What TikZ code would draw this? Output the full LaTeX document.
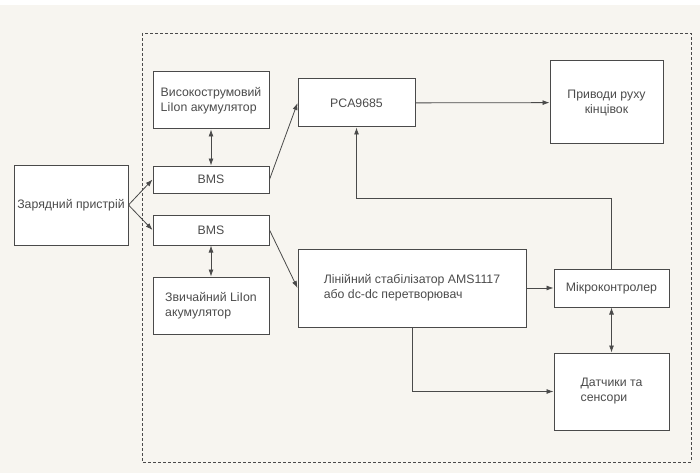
\documentclass[tikz,border=0pt]{standalone}
\usepackage{fontspec}
\setmainfont{Liberation Sans}
\usetikzlibrary{arrows.meta}
\definecolor{paper}{HTML}{F7F5F0}
\definecolor{linegray}{HTML}{4A4A4A}
\tikzset{
    blok/.style={draw=linegray, fill=white, line width=1pt, inner sep=1pt,
        font=\fontsize{12.3}{15}\selectfont, text=black!70},
    zv/.style={draw=linegray, line width=0.8pt},
    >={Latex[length=7pt,width=5pt]}
}
\begin{document}
\begin{tikzpicture}[x=1pt,y=-1pt]
    \fill[white] (0,0) rectangle (700,473);
    \fill[paper] (0,5) rectangle (700,473);
    \useasboundingbox (0,0) rectangle (700,473);
    \draw[linegray, dashed, dash pattern=on 3pt off 2pt, line width=0.8pt] (142,33) rectangle (691,462);

    \node[blok, minimum width=114pt, minimum height=80pt] (zar) at (71,205) {Зарядний пристрій};
    \node[blok, minimum width=116pt, minimum height=57pt, align=left] (hv) at (211,100.5)
    {
        Високострумовий\\LiIon акумулятор
    };
    \node[blok, minimum width=116pt, minimum height=27pt] (bms1) at (211,179.5) {BMS};
    \node[blok, minimum width=116pt, minimum height=30pt] (bms2) at (211,230) {BMS};
    \node[blok, minimum width=116pt, minimum height=57pt, align=left] (li) at (211,305.5)
    {
        Звичайний LiIon\\акумулятор
    };
    \node[blok, minimum width=117pt, minimum height=48pt] (pca) at (356.5,103) {PCA9685};
    \node[blok, minimum width=113pt, minimum height=83pt, align=center] (act) at (606.5,102.5)
    {
        Приводи руху\\кінцівок
    };
    \node[blok, minimum width=228pt, minimum height=78pt, align=left] (stab) at (412,288)
    {
        Лінійний стабілізатор AMS1117\\або dc-dc перетворювач
    };
    \node[blok, minimum width=115pt, minimum height=38pt] (mcu) at (611.5,288) {Мікроконтролер};
    \node[blok, minimum width=115pt, minimum height=77pt, align=left] (sens) at (611.5,391.5)
    {
        Датчики та\\сенсори
    };

    \draw[zv,->] (zar.east) -- (bms1.west);
    \draw[zv,->] (zar.east) -- (bms2.west);
    \draw[zv,<->] (hv) -- (bms1);
    \draw[zv,<->] (bms2) -- (li);
    \draw[zv,->] (bms1.east) -- (pca.west);
    \draw[zv,->] (bms2.east) -- (stab.west);
    \draw[zv,->] (pca) -- (act);
    \draw[zv,->] (stab) -- (mcu);
    \draw[zv,->] (stab.south) |- (sens.west);
    \draw[zv,->] (mcu.north) -- ++(0,-70) -| (pca.south);
    \draw[zv,<->] (mcu) -- (sens);
\end{tikzpicture}
\end{document}
